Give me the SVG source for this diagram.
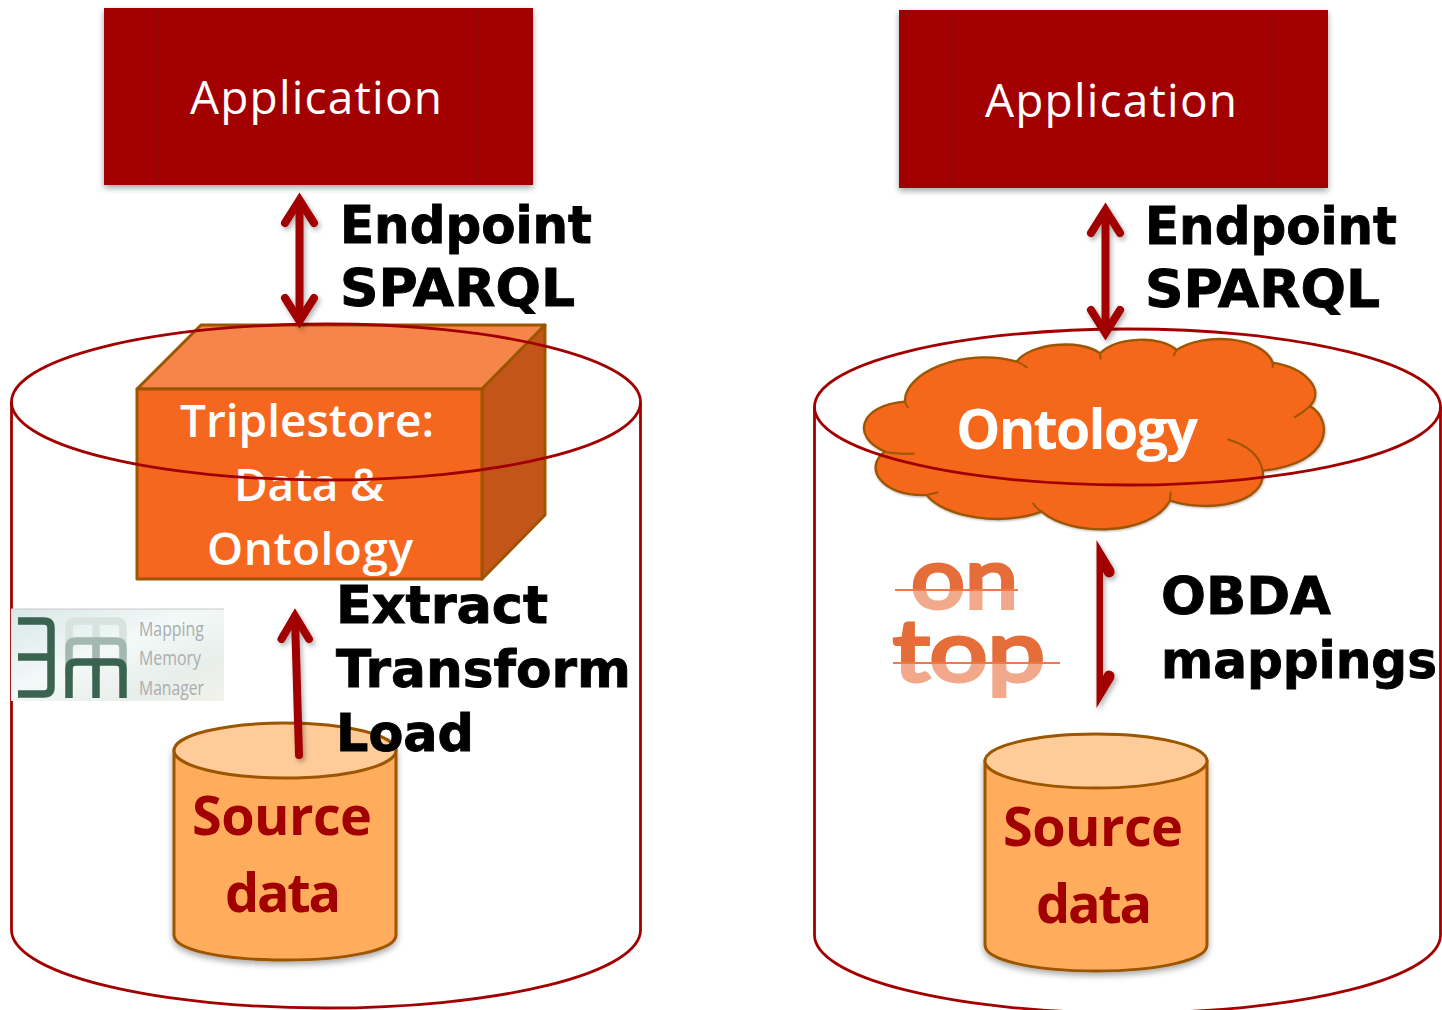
<svg xmlns="http://www.w3.org/2000/svg" width="1442" height="1010" viewBox="0 0 1442 1010">
<style>
.app{fill:#a20000}
.seam{stroke:#880a0a;stroke-width:1;fill:none}
.apptxt{font-family:"Open Sans","Noto Sans",sans-serif;font-size:46px;fill:#fff}
.lbl{font-family:"DejaVu Sans",sans-serif;font-weight:700;font-size:52px;fill:#000;stroke:#000;stroke-width:.9}
.wt{font-family:"Open Sans","Noto Sans",sans-serif;font-weight:600;fill:#fff;text-anchor:middle}
.wtb{font-weight:700}
.src{font-family:"Open Sans","Noto Sans",sans-serif;font-weight:700;font-size:54px;fill:#a20000;text-anchor:middle}
.drum{fill:none;stroke:#a20000;stroke-width:2.8}
.body{fill:#ffad5c;stroke:#9c5500;stroke-width:3}
.lid{fill:#ffcc99;stroke:#9c5500;stroke-width:3}
.edge{stroke:#9c5500;stroke-width:3;stroke-linejoin:round}
.arr{fill:none;stroke:#a20000;stroke-width:8;stroke-linecap:round;stroke-linejoin:miter;stroke-miterlimit:6}
.lg{font-family:"Open Sans","Noto Sans",sans-serif;font-size:20px;fill:#a9aeae}
.ot{font-family:"Lato","Open Sans",sans-serif;font-weight:400;font-size:86px;stroke-width:4}
.lm{fill:none;stroke-width:7.500}
</style>
<defs>
<filter id="sh" x="-10%" y="-10%" width="120%" height="125%"><feDropShadow dx="0" dy="3" stdDeviation="3" flood-color="#000" flood-opacity=".35"/></filter>
<filter id="sh2" x="-30%" y="-10%" width="170%" height="120%"><feDropShadow dx="2" dy="3" stdDeviation="2.500" flood-color="#000" flood-opacity=".3"/></filter>
<linearGradient id="lgbg" x1="0" y1="0" x2="1" y2="1"><stop offset="0" stop-color="#d8e8e6"/><stop offset=".45" stop-color="#f3f9f8"/><stop offset=".75" stop-color="#e8eeea"/><stop offset="1" stop-color="#f2f2ec"/></linearGradient>
<linearGradient id="on" gradientUnits="userSpaceOnUse" x1="0" y1="550" x2="0" y2="615"><stop offset=".615" stop-color="#e56d3a"/><stop offset=".615" stop-color="#f2a88a"/></linearGradient>
<linearGradient id="top" gradientUnits="userSpaceOnUse" x1="0" y1="620" x2="0" y2="710"><stop offset=".48" stop-color="#e56d3a"/><stop offset=".48" stop-color="#f2a88a"/></linearGradient>
</defs>

<g id="left-store"><path class="drum" d="M11.500 402V930A314.500 78 0 0 0 640.500 930V402"/></g>
<g id="right-store"><path class="drum" d="M814.500 407V935A313 78 0 0 0 1440.500 935V407"/></g>

<g id="left-app"><rect class="app" x="104" y="8" width="429" height="177" filter="url(#sh)"/><path class="seam" d="M158 8V185M478 8V185"/><text class="apptxt" x="190" y="114" textLength="252">Application</text></g>
<g id="right-app"><rect class="app" x="899" y="10" width="429" height="178" filter="url(#sh)"/><path class="seam" d="M953 10V188M1272 10V188"/><text class="apptxt" x="985" y="117" textLength="252">Application</text></g>

<g id="triplestore">
<path d="M137 389L201 325H545L482 389Z" fill="#f5854a" class="edge"/>
<path d="M482 389L545 325V515L482 579Z" fill="#c4551a" class="edge"/>
<rect x="137" y="389" width="345" height="190" fill="#f5671e" class="edge"/>
<text class="wt" x="307" y="437" font-size="46" textLength="254">Triplestore:</text>
<text class="wt" x="309" y="501" font-size="46" textLength="150">Data &amp;</text>
<text class="wt" x="310" y="565" font-size="46" textLength="206">Ontology</text>
</g>

<g id="ontology">
<g transform="translate(850 330) scale(.33333)">
<path filter="url(#sh2)" fill="#f5671e" stroke="#9c5500" stroke-width="7" stroke-linejoin="round" d="M165 215C160 130 340 50 500 95C540 40 690 25 750 70C800 20 930 15 980 60C1060 5 1240 20 1268 98C1370 115 1425 180 1380 228C1450 270 1450 400 1238 422C1250 520 1080 550 960 512C900 620 660 620 575 545C450 590 280 560 230 495C90 500 40 410 105 365C0 320 30 225 165 215Z"/>
<path fill="none" stroke="#9c5500" stroke-width="6" d="M165 215Q168 225 175 234M500 95Q518 102 532 113M750 70L752 88M980 60L970 78M1268 98L1268 113M1380 228Q1360 248 1332 263M1132 328Q1225 355 1238 422M960 512L962 485M575 545Q558 535 548 518M230 495L265 487M105 365Q140 372 194 371"/>
</g>
<text class="wt wtb" x="1077" y="449" font-size="56" textLength="242">Ontology</text>
</g>

<g id="left-source"><path class="body" filter="url(#sh)" d="M174 750V935C174 950 222 960 285 960S396 950 396 935V750Z"/><ellipse class="lid" cx="285" cy="750.500" rx="111" ry="27.500"/><text class="src" x="282" y="835" textLength="180">Source</text><text class="src" x="283" y="912" textLength="116">data</text></g>
<g id="right-source"><path class="body" filter="url(#sh)" d="M985 761V945C985 960 1033 971 1096 971S1207 960 1207 945V761Z"/><ellipse class="lid" cx="1096" cy="761" rx="111" ry="27"/><text class="src" x="1093" y="846" textLength="180">Source</text><text class="src" x="1094" y="923" textLength="116">data</text></g>

<g id="left-drum-top"><ellipse class="drum" cx="326" cy="402" rx="314.500" ry="78"/></g>
<g id="right-drum-top"><ellipse class="drum" cx="1127.500" cy="407" rx="313" ry="78"/></g>

<g id="logo">
<rect x="11" y="609" width="213" height="92" fill="url(#lgbg)"/>
<path d="M11 609H224" stroke="#c8c8c8" stroke-width="1"/>
<path class="lm" stroke="#3a6350" d="M18 621H44Q51 621 51 628V687Q51 694 44 694H18M18 657H51"/>
<path class="lm" stroke="#d8e2df" d="M69 655V628Q69 621 76 621H116Q123 621 123 628V655M96 621V655"/>
<path class="lm" stroke="#a3b8af" d="M69 675V648Q69 641 76 641H116Q123 641 123 648V675M96 641V675"/>
<path class="lm" stroke="#3a6350" d="M69 698V669Q69 662 76 662H116Q123 662 123 669V698M96 662V698"/>
<text class="lg" x="139" y="636" textLength="65" lengthAdjust="spacingAndGlyphs">Mapping</text>
<text class="lg" x="139" y="665" textLength="62" lengthAdjust="spacingAndGlyphs">Memory</text>
<text class="lg" x="139" y="695" textLength="65" lengthAdjust="spacingAndGlyphs">Manager</text>
</g>

<g id="ontop-logo">
<text class="ot" x="911" y="608" fill="url(#on)" stroke="url(#on)" textLength="107" lengthAdjust="spacingAndGlyphs">on</text>
<text class="ot" x="893" y="681" fill="url(#top)" stroke="url(#top)" textLength="152" lengthAdjust="spacingAndGlyphs">top</text>
<path d="M895 590H1018M893 663H1060" stroke="#ee7a4c" stroke-width="2" fill="none"/>
</g>

<g id="connectors" filter="url(#sh2)">
<path class="arr" d="M299.500 202V319"/>
<path class="arr" d="M285 223L299.500 200L314 223M285 298L299.500 321L314 298"/>
<path class="arr" d="M1105.500 212V331"/>
<path class="arr" d="M1091 233L1105.500 210L1120 233M1091 310L1105.500 333L1120 310"/>
<path class="arr" d="M295 618L299 755"/>
<path class="arr" d="M281.500 639L295 616L309 639"/>
<path d="M1096.500 540L1114 569Q1116 575 1111 577Q1106 579 1103 572V676Q1106 669 1111 671Q1116 673 1114 679L1096.500 708V540Z" fill="#a20000"/>
</g>

<g id="labels">
<text class="lbl" x="340" y="243" textLength="252" lengthAdjust="spacingAndGlyphs">Endpoint</text>
<text class="lbl" x="340" y="306" textLength="235" lengthAdjust="spacingAndGlyphs">SPARQL</text>
<text class="lbl" x="1145" y="244" textLength="252" lengthAdjust="spacingAndGlyphs">Endpoint</text>
<text class="lbl" x="1145" y="307" textLength="235" lengthAdjust="spacingAndGlyphs">SPARQL</text>
<text class="lbl" x="336" y="623" textLength="212" lengthAdjust="spacingAndGlyphs">Extract</text>
<text class="lbl" x="336" y="687" textLength="295" lengthAdjust="spacingAndGlyphs">Transform</text>
<text class="lbl" x="336" y="751" textLength="138" lengthAdjust="spacingAndGlyphs">Load</text>
<text class="lbl" x="1161" y="614" textLength="170" lengthAdjust="spacingAndGlyphs">OBDA</text>
<text class="lbl" x="1161" y="678" textLength="276" lengthAdjust="spacingAndGlyphs">mappings</text>
</g>
</svg>
